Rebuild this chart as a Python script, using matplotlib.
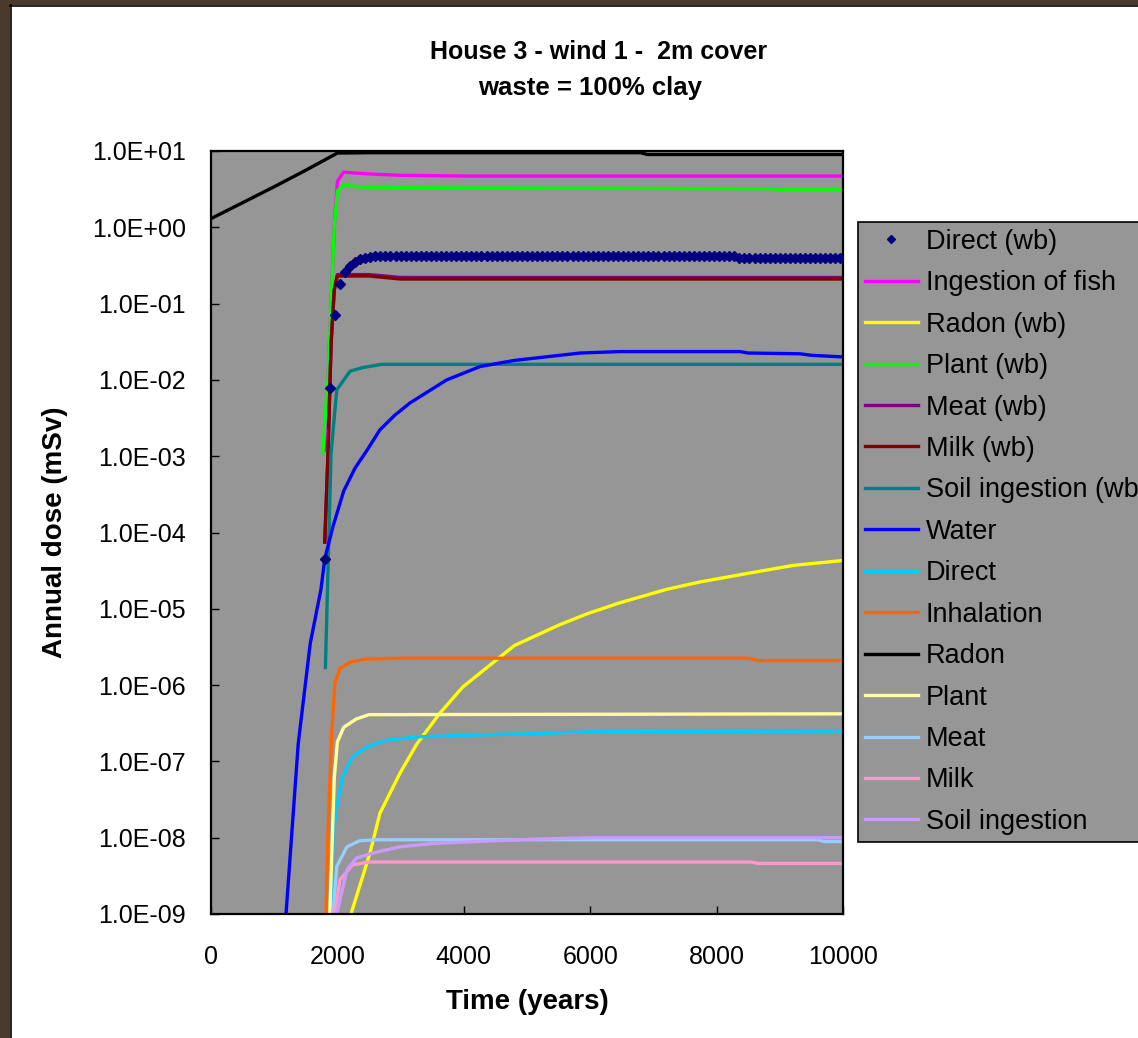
# Dose vs time chart - House 3, wind 1, 2m cover, clay waste

import matplotlib
matplotlib.use("Agg")
import matplotlib.pyplot as plt
from matplotlib.patches import Rectangle

plt.rcParams["font.family"] = ["Liberation Sans", "DejaVu Sans"]

# -------- Data --------
direct_wb_t = [1800, 1880, 1960, 2040, 2120, 2200, 2280, 2360, 2440, 2520,
               2600, 2680, 2760, 2840, 2920, 3000, 3080, 3160, 3240, 3320,
               3400, 3480, 3560, 3640, 3720, 3800, 3880, 3960, 4040, 4120,
               4200, 4280, 4360, 4440, 4520, 4600, 4680, 4760, 4840, 4920,
               5000, 5080, 5160, 5240, 5320, 5400, 5480, 5560, 5640, 5720,
               5800, 5880, 5960, 6040, 6120, 6200, 6280, 6360, 6440, 6520,
               6600, 6680, 6760, 6840, 6920, 7000, 7080, 7160, 7240, 7320,
               7400, 7480, 7560, 7640, 7720, 7800, 7880, 7960, 8040, 8120,
               8200, 8280, 8360, 8440, 8520, 8600, 8680, 8760, 8840, 8920,
               9000, 9080, 9160, 9240, 9320, 9400, 9480, 9560, 9640, 9720,
               9800, 9880, 9960]
direct_wb_v = ([4.5e-5, 7.8e-3, 7.0e-2, 0.18, 0.26, 0.31, 0.35, 0.38, 0.40, 0.41]
               + [0.42] * 72 + [0.40] * 21)

fish_t = [1800, 1850, 1900, 1950, 2000, 2100, 2200, 2500, 3000, 4000, 10000]
fish_v = [1.2e-3, 1.0e-2, 0.1, 1.0, 4.0, 5.3, 5.2, 5.0, 4.8, 4.7, 4.7]

radon_wb_t = [2215, 2516, 2674, 2990, 3259, 3623, 3987, 4367, 4800,
              5520, 5950, 6470, 7210, 7740, 8480, 9210, 10000]
radon_wb_v = [1.0e-9, 6.3e-9, 2.1e-8, 7.0e-8, 1.7e-7, 4.3e-7, 9.5e-7, 1.7e-6,
              3.3e-6, 6.2e-6, 8.6e-6, 1.2e-5, 1.8e-5, 2.25e-5,
              2.9e-5, 3.7e-5, 4.3e-5]

plant_wb_t = [1770, 1850, 1900, 1950, 2000, 2100, 2300, 3000, 8900, 9000, 10000]
plant_wb_v = [1.1e-3, 1.0e-2, 0.1, 1.0, 3.0, 3.6, 3.4, 3.3, 3.2, 3.1, 3.1]

meat_wb_t = [1800, 1850, 1900, 1950, 2000, 2500, 3000, 10000]
meat_wb_v = [7.5e-5, 1.0e-3, 3.0e-2, 0.15, 0.24, 0.24, 0.22, 0.22]

milk_wb_t = [1800, 1850, 1900, 1950, 2000, 2500, 3000, 10000]
milk_wb_v = [7.5e-5, 1.0e-3, 3.0e-2, 0.15, 0.23, 0.23, 0.21, 0.21]

soil_wb_t = [1810, 1900, 1990, 2200, 2400, 2700, 10000]
soil_wb_v = [1.7e-6, 1.1e-3, 7.4e-3, 1.3e-2, 1.45e-2, 1.6e-2, 1.6e-2]

water_t = [1187, 1380, 1570, 1740, 1800, 1930, 2100, 2280, 2470, 2670, 2900,
           3150, 3730, 4260, 4800, 5520, 5840, 6470, 8370, 8500, 9320, 9500,
           10000]
water_v = [1.0e-9, 1.7e-7, 3.5e-6, 1.8e-5, 4.5e-5, 1.2e-4, 3.5e-4, 7.0e-4,
           1.2e-3, 2.2e-3, 3.4e-3, 5.0e-3, 1.0e-2, 1.5e-2, 1.8e-2, 2.1e-2,
           2.25e-2, 2.35e-2, 2.35e-2, 2.25e-2, 2.2e-2, 2.1e-2, 2.0e-2]

direct_t = [1915, 1930, 1990, 2080, 2240, 2470, 2780, 3270, 4050, 5000,
            6000, 10000]
direct_v = [1.0e-9, 1.1e-8, 2.5e-8, 6.3e-8, 1.15e-7, 1.55e-7, 1.9e-7, 2.1e-7,
            2.2e-7, 2.3e-7, 2.45e-7, 2.5e-7]

inhal_t = [1820, 1850, 1910, 1960, 2040, 2200, 2470, 3000, 8500, 8650, 10000]
inhal_v = [1.0e-9, 1.1e-8, 2.3e-7, 1.07e-6, 1.65e-6, 2.0e-6, 2.2e-6, 2.25e-6,
           2.25e-6, 2.1e-6, 2.1e-6]

radon_t = [0, 500, 1000, 1500, 2000, 2500, 6800, 6900, 10000]
radon_v = [1.3, 2.1, 3.4, 5.6, 9.4, 9.5, 9.5, 9.0, 9.0]

plant_t = [1880, 1920, 1950, 2000, 2100, 2300, 2500, 10000]
plant_v = [1.0e-9, 1.0e-8, 6.0e-8, 1.8e-7, 2.8e-7, 3.6e-7, 4.1e-7, 4.2e-7]

meat_t = [1930, 1990, 2150, 2350, 2600, 9600, 9700, 10000]
meat_v = [1.0e-9, 4.2e-9, 7.6e-9, 9.1e-9, 9.4e-9, 9.4e-9, 8.9e-9, 8.9e-9]

milk_t = [1960, 2040, 2240, 2500, 8550, 8650, 10000]
milk_v = [1.0e-9, 2.8e-9, 4.4e-9, 4.8e-9, 4.8e-9, 4.6e-9, 4.6e-9]

soil_t = [1990, 2150, 2300, 2560, 2990, 3510, 4050, 5000, 6000, 10000]
soil_v = [1.0e-9, 3.8e-9, 5.4e-9, 6.3e-9, 7.6e-9, 8.4e-9, 8.8e-9, 9.5e-9,
          1.0e-8, 1.0e-8]

x_ticks = [0, 2000, 4000, 6000, 8000, 10000]
y_ticks = [1e-9, 1e-8, 1e-7, 1e-6, 1e-5, 1e-4, 1e-3, 1e-2, 1e-1, 1e0, 1e1]


def main():
    fig = plt.figure(figsize=(11.38, 10.38), dpi=100)

    # wood frame strips on the left and top
    fig.patches.append(Rectangle((0, 0), 10 / 1138, 1, transform=fig.transFigure,
                                 facecolor="#4b3a2b", edgecolor="none", zorder=0))
    fig.patches.append(Rectangle((0, 1 - 5 / 1038), 1, 5 / 1038,
                                 transform=fig.transFigure,
                                 facecolor="#4b3a2b", edgecolor="none", zorder=0))
    fig.lines.append(plt.Line2D([10.5 / 1138, 10.5 / 1138], [0, 1 - 5 / 1038],
                                transform=fig.transFigure, color="black", lw=1.2))
    fig.lines.append(plt.Line2D([10 / 1138, 1], [1 - 5.5 / 1038, 1 - 5.5 / 1038],
                                transform=fig.transFigure, color="black", lw=1.2))

    ax = fig.add_axes([211 / 1138, 1 - 914 / 1038, 632 / 1138, 763 / 1038])
    ax.set_facecolor("#969696")

    lw = 2.4
    ax.plot(direct_wb_t, direct_wb_v, linestyle="none", marker="D",
            markersize=5.5, color="#000080", label="Direct (wb)", zorder=5)
    ax.plot(fish_t, fish_v, color="#FF00FF", lw=lw, label="Ingestion of fish")
    ax.plot(radon_wb_t, radon_wb_v, color="#FFFF00", lw=lw, label="Radon (wb)")
    ax.plot(plant_wb_t, plant_wb_v, color="#00FF00", lw=lw, label="Plant (wb)")
    ax.plot(meat_wb_t, meat_wb_v, color="#800080", lw=lw, label="Meat (wb)")
    ax.plot(milk_wb_t, milk_wb_v, color="#800000", lw=lw, label="Milk (wb)")
    ax.plot(soil_wb_t, soil_wb_v, color="#008080", lw=lw,
            label="Soil ingestion (wb)")
    ax.plot(water_t, water_v, color="#0000FF", lw=lw, label="Water")
    ax.plot(direct_t, direct_v, color="#00CCFF", lw=lw, label="Direct")
    ax.plot(inhal_t, inhal_v, color="#FF6600", lw=lw, label="Inhalation")
    ax.plot(radon_t, radon_v, color="black", lw=lw, label="Radon")
    ax.plot(plant_t, plant_v, color="#FFFF99", lw=lw, label="Plant")
    ax.plot(meat_t, meat_v, color="#99CCFF", lw=lw, label="Meat")
    ax.plot(milk_t, milk_v, color="#FF99CC", lw=lw, label="Milk")
    ax.plot(soil_t, soil_v, color="#CC99FF", lw=lw, label="Soil ingestion")

    ax.set_yscale("log")
    ax.set_xlim(0, 10000)
    ax.set_ylim(1e-9, 1e1)
    ax.set_yticks(y_ticks)
    ax.set_yticklabels([f"{v:.1E}" for v in y_ticks])
    ax.yaxis.set_minor_locator(matplotlib.ticker.NullLocator())
    ax.set_xticks(x_ticks)
    ax.set_xticklabels([str(v) for v in x_ticks])

    ax.tick_params(axis="both", direction="in", length=6, width=1,
                   labelsize=18, colors="black")
    ax.tick_params(axis="y", pad=18)
    ax.tick_params(axis="x", pad=22)
    for sp in ax.spines.values():
        sp.set_linewidth(1.6)
        sp.set_color("black")

    ax.set_xlabel("Time (years)", fontsize=20, fontweight="bold", labelpad=15)
    ax.set_ylabel("Annual dose (mSv)", fontsize=20, fontweight="bold",
                  labelpad=17)

    fig.text(599 / 1138, 1 - 52 / 1038, "House 3 - wind 1 -  2m cover",
             ha="center", va="center", fontsize=18, fontweight="bold")
    fig.text(590 / 1138, 1 - 88 / 1038, "waste = 100% clay",
             ha="center", va="center", fontsize=18.5, fontweight="bold")

    # legend runs past the right edge of the picture, as in the original
    leg = ax.legend(loc="upper left", bbox_to_anchor=(858 / 1138, 1 - 222 / 1038),
                    bbox_transform=fig.transFigure, fontsize=19.5,
                    frameon=True, fancybox=False, framealpha=1,
                    facecolor="#969696", edgecolor="black",
                    handlelength=1.95, handletextpad=0.3, labelspacing=0.57,
                    borderpad=0.25, borderaxespad=0, markerscale=0.8)
    leg.get_frame().set_linewidth(1.2)

    fig.savefig("out.png", dpi=100, facecolor="white")
    plt.close(fig)


if __name__ == "__main__":
    main()
